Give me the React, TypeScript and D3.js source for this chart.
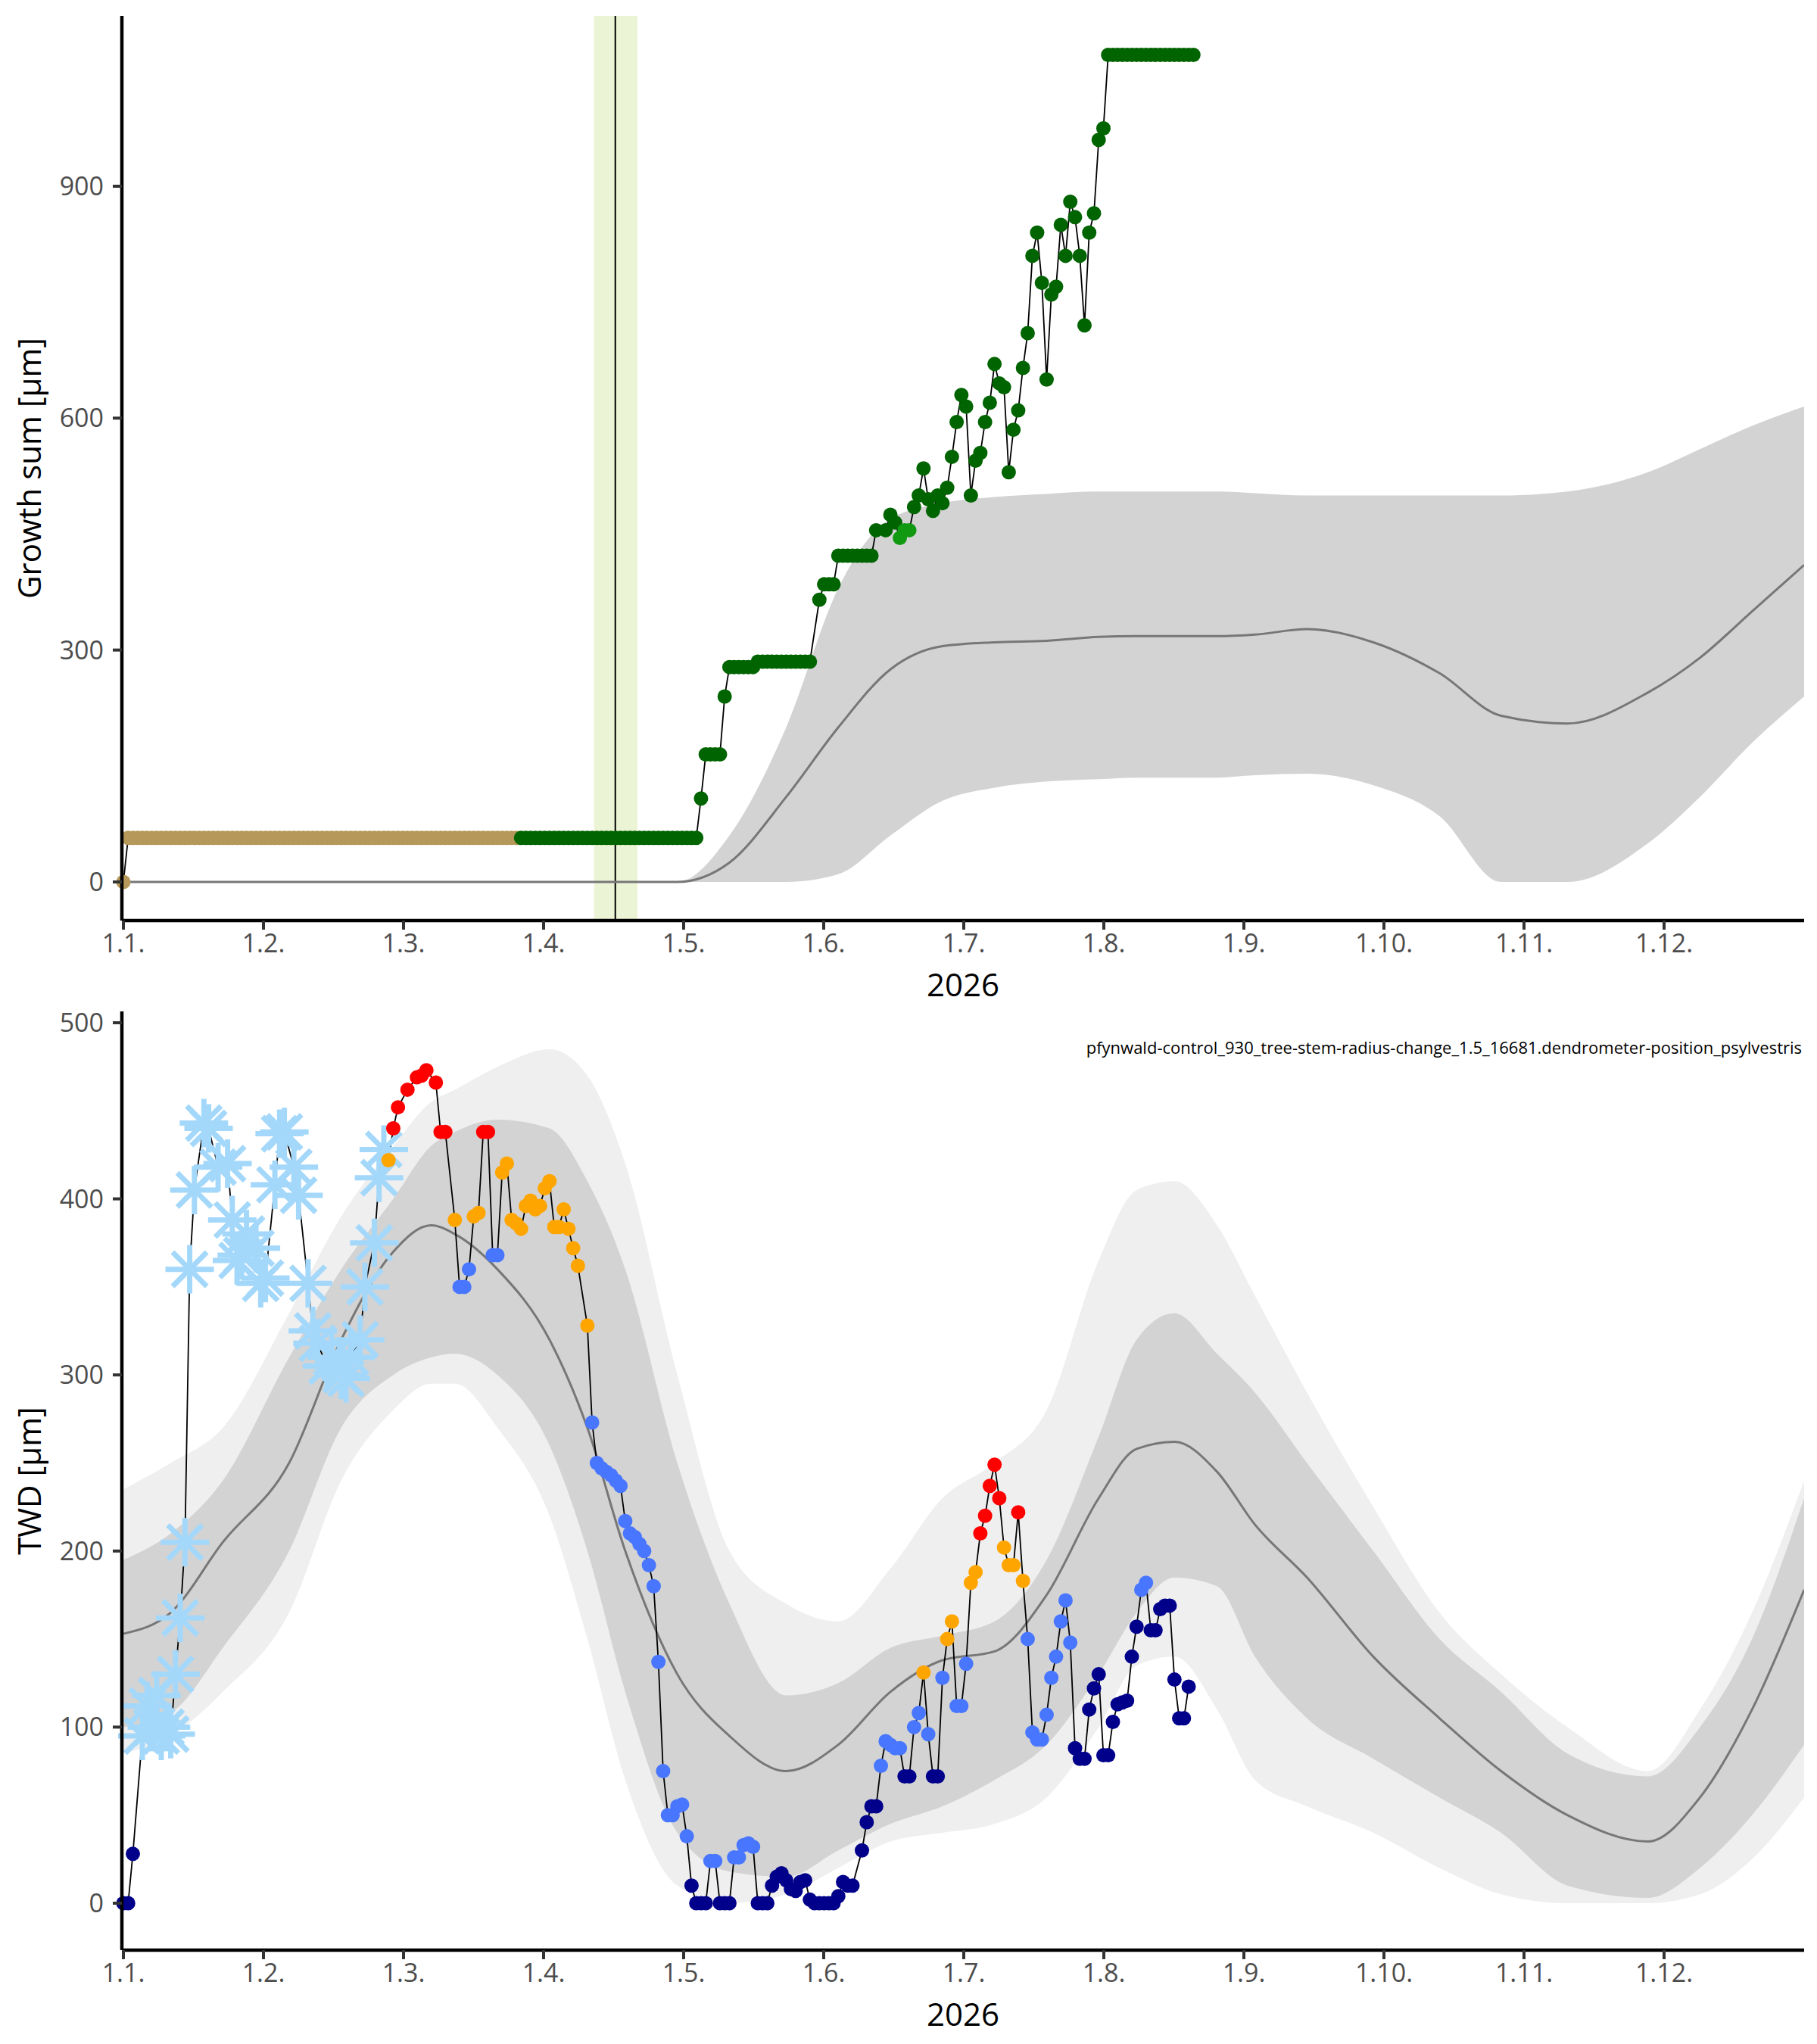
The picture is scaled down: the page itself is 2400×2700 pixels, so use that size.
import * as d3 from "d3";

// x positions are in "plot days": 0 = 1 Jan, 355 = 31 Dec (month ticks evenly spaced)
const monthLabels = ["1.1.", "1.2.", "1.3.", "1.4.", "1.5.", "1.6.", "1.7.", "1.8.", "1.9.", "1.10.", "1.11.", "1.12."];

// growth sum: [day, value, class]  t = pre-season, g = growth, l = light growth
const growth: [number, number, string][] = [[0, 0, "t"]];
for (let d = 1; d <= 83; d++) growth.push([d, 57, "t"]);
for (let d = 84; d <= 121; d++) growth.push([d, 57, "g"]);
const growthTail: [number, number][] = [
  [122, 108], [123, 165], [124, 165], [125, 165], [126, 165], [127, 240], [128, 278], [129, 278], [130, 278], [131, 278], [132, 278], [133, 278],
  [134, 285], [135, 285], [136, 285], [137, 285], [138, 285], [139, 285], [140, 285], [141, 285], [142, 285], [143, 285], [144, 285], [145, 285],
  [147, 365], [148, 385], [149, 385], [150, 385], [151, 422], [152, 422], [153, 422], [154, 422], [155, 422], [156, 422], [157, 422], [158, 422],
  [159, 455], [161, 455], [162, 475], [163, 465], [164, 445], [165, 455], [166, 455], [167, 485], [168, 500], [169, 535], [170, 495], [171, 480],
  [172, 500], [173, 490], [174, 510], [175, 550], [176, 595], [177, 630], [178, 615], [179, 500], [180, 545], [181, 555], [182, 595], [183, 620],
  [184, 670], [185, 645], [186, 640], [187, 530], [188, 585], [189, 610], [190, 665], [191, 710], [192, 810], [193, 840], [194, 775], [195, 650],
  [196, 760], [197, 770], [198, 850], [199, 810], [200, 880], [201, 860], [202, 810], [203, 720], [204, 840], [205, 865], [206, 960], [207, 975],
];
growthTail.forEach(([d, v]) => growth.push([d, v, d >= 164 && d <= 166 ? "l" : "g"]));
for (let d = 208; d <= 226; d++) growth.push([d, 1070, "g"]);

// TWD: [day, value, class] s = snow, n = navy, b = blue, o = orange, r = red
const twd: [number, number, string][] = [
  [0, 0, "n"], [1, 0, "n"], [2, 28, "n"],
  [4, 95, "s"], [5, 112, "s"], [6, 100, "s"], [7, 118, "s"], [8, 95, "s"], [9, 100, "s"], [10, 96, "s"], [11, 130, "s"], [12, 162, "s"], [13, 205, "s"],
  [14, 360, "s"], [15, 405, "s"], [17, 443, "s"], [18, 440, "s"], [20, 418, "s"], [22, 420, "s"], [23, 388, "s"], [24, 365, "s"], [25, 368, "s"],
  [26, 380, "s"], [28, 372, "s"], [29, 352, "s"], [30, 355, "s"], [32, 408, "s"], [33, 437, "s"], [34, 438, "s"], [36, 418, "s"], [37, 402, "s"],
  [39, 352, "s"], [40, 325, "s"], [41, 318, "s"], [43, 305, "s"], [44, 310, "s"], [46, 300, "s"], [47, 298, "s"], [48, 310, "s"], [50, 320, "s"],
  [51, 350, "s"], [53, 375, "s"], [54, 412, "s"], [55, 428, "s"],
  [56, 422, "o"], [57, 440, "r"], [58, 452, "r"], [60, 462, "r"], [62, 469, "r"], [63, 470, "r"], [64, 473, "r"], [66, 466, "r"], [67, 438, "r"], [68, 438, "r"],
  [70, 388, "o"], [71, 350, "b"], [72, 350, "b"], [73, 360, "b"], [74, 390, "o"], [75, 392, "o"], [76, 438, "r"], [77, 438, "r"], [78, 368, "b"], [79, 368, "b"],
  [80, 415, "o"], [81, 420, "o"], [82, 388, "o"], [83, 386, "o"], [84, 383, "o"], [85, 396, "o"], [86, 399, "o"], [87, 394, "o"], [88, 396, "o"],
  [89, 406, "o"], [90, 410, "o"], [91, 384, "o"], [92, 384, "o"], [93, 394, "o"], [94, 383, "o"], [95, 372, "o"], [96, 362, "o"], [98, 328, "o"],
  [99, 273, "b"], [100, 250, "b"], [101, 247, "b"], [102, 245, "b"], [103, 243, "b"], [104, 240, "b"], [105, 237, "b"], [106, 217, "b"], [107, 210, "b"],
  [108, 208, "b"], [109, 204, "b"], [110, 200, "b"], [111, 192, "b"], [112, 180, "b"], [113, 137, "b"], [114, 75, "b"], [115, 50, "b"], [116, 50, "b"],
  [117, 55, "b"], [118, 56, "b"], [119, 38, "b"], [120, 10, "n"], [121, 0, "n"], [122, 0, "n"], [123, 0, "n"], [124, 24, "b"], [125, 24, "b"],
  [126, 0, "n"], [127, 0, "n"], [128, 0, "n"], [129, 26, "b"], [130, 26, "b"], [131, 33, "b"], [132, 34, "b"], [133, 32, "b"],
  [134, 0, "n"], [135, 0, "n"], [136, 0, "n"], [137, 10, "n"], [138, 15, "n"], [139, 17, "n"], [140, 13, "n"], [141, 8, "n"], [142, 7, "n"],
  [143, 12, "n"], [144, 13, "n"], [145, 2, "n"], [146, 0, "n"], [147, 0, "n"], [148, 0, "n"], [149, 0, "n"], [150, 0, "n"], [151, 4, "n"],
  [152, 12, "n"], [153, 10, "n"], [154, 10, "n"], [156, 30, "n"], [157, 46, "n"], [158, 55, "n"], [159, 55, "n"],
  [160, 78, "b"], [161, 92, "b"], [162, 90, "b"], [163, 88, "b"], [164, 88, "b"], [165, 72, "n"], [166, 72, "n"], [167, 100, "b"], [168, 108, "b"],
  [169, 131, "o"], [170, 96, "b"], [171, 72, "n"], [172, 72, "n"], [173, 128, "b"], [174, 150, "o"], [175, 160, "o"], [176, 112, "b"], [177, 112, "b"],
  [178, 136, "b"], [179, 182, "o"], [180, 188, "o"], [181, 210, "r"], [182, 220, "r"], [183, 237, "r"], [184, 249, "r"], [185, 230, "r"],
  [186, 202, "o"], [187, 192, "o"], [188, 192, "o"], [189, 222, "r"], [190, 183, "o"], [191, 150, "b"], [192, 97, "b"], [193, 93, "b"], [194, 93, "b"],
  [195, 107, "b"], [196, 128, "b"], [197, 140, "b"], [198, 160, "b"], [199, 172, "b"], [200, 148, "b"], [201, 88, "n"], [202, 82, "n"], [203, 82, "n"],
  [204, 110, "n"], [205, 122, "n"], [206, 130, "n"], [207, 84, "n"], [208, 84, "n"], [209, 103, "n"], [210, 113, "n"], [211, 114, "n"], [212, 115, "n"],
  [213, 140, "n"], [214, 157, "n"], [215, 178, "b"], [216, 182, "b"], [217, 155, "n"], [218, 155, "n"], [219, 167, "n"], [220, 169, "n"], [221, 169, "n"],
  [222, 127, "n"], [223, 105, "n"], [224, 105, "n"], [225, 123, "n"],
];

// climatology bands on a shared day grid
const bandDays = [0, 10, 21, 35, 46, 57, 65, 70, 79, 90, 98, 106, 117, 128, 140, 151, 162, 173, 184, 195, 206, 214, 222, 231, 239, 250, 264, 278, 291, 305, 322, 333, 344, 355];
const gMean = [0, 0, 0, 0, 0, 0, 0, 0, 0, 0, 0, 0, 0, 25, 110, 200, 275, 305, 310, 312, 317, 318, 318, 318, 320, 327, 310, 270, 215, 205, 245, 290, 350, 410];
const gHi = [0, 0, 0, 0, 0, 0, 0, 0, 0, 0, 0, 0, 0, 60, 200, 380, 470, 490, 498, 502, 505, 505, 505, 505, 503, 500, 500, 500, 500, 505, 530, 560, 590, 615];
const gLo = [0, 0, 0, 0, 0, 0, 0, 0, 0, 0, 0, 0, 0, 0, 0, 10, 60, 105, 122, 130, 133, 135, 135, 135, 138, 140, 125, 85, 0, 0, 50, 110, 180, 240];
const tMean = [153, 165, 205, 250, 320, 370, 385, 380, 360, 320, 270, 200, 130, 95, 75, 90, 120, 138, 143, 175, 230, 258, 262, 245, 215, 185, 140, 105, 75, 50, 35, 60, 110, 178];
const tHi = [195, 210, 240, 310, 360, 400, 430, 438, 445, 440, 410, 360, 250, 170, 118, 125, 145, 152, 160, 195, 265, 320, 335, 312, 290, 250, 200, 150, 120, 85, 72, 100, 150, 230];
const tLo = [100, 108, 145, 200, 270, 300, 310, 312, 300, 260, 200, 120, 40, 18, 15, 30, 45, 55, 70, 90, 130, 165, 185, 180, 140, 105, 82, 60, 40, 10, 3, 20, 50, 90];
const tHi2 = [235, 250, 270, 335, 390, 430, 455, 462, 475, 485, 470, 420, 300, 200, 170, 160, 190, 230, 250, 280, 365, 405, 410, 385, 345, 290, 225, 165, 130, 100, 75, 110, 165, 240];
const tLo2 = [85, 95, 120, 165, 240, 280, 295, 295, 270, 220, 150, 70, 10, 0, 5, 20, 35, 40, 45, 60, 100, 135, 140, 110, 70, 55, 40, 20, 5, 0, 0, 5, 25, 60];

const sowing = { day: 103.9, from: 99.4, to: 108.6 };

const colors: Record<string, string> = { t: "#b5985a", g: "#006400", l: "#119a11", n: "#00008b", b: "#4876ff", o: "#ffa500", r: "#ff0000", s: "#a4d8fb" };
const font = "'Open Sans', 'Noto Sans', sans-serif";

const L = 161, R = 2383;
const x = d3.scaleLinear().domain([0, 355]).range([163, R]);
const tickDays = monthLabels.map((_, i) => (i * 355) / 12);

function XAxis({ y0 }: { y0: number }) {
  return (
    <g>
      <line x1={L} x2={R} y1={y0} y2={y0} stroke="#000" strokeWidth={4.5} />
      {tickDays.map((d, i) => (
        <g key={i} transform={`translate(${x(d)},${y0})`}>
          <line y1={0} y2={12} stroke="#333" strokeWidth={4} />
          <text y={42} textAnchor="middle" fontSize={34} fill="#4d4d4d" fontFamily={font}>{monthLabels[i]}</text>
        </g>
      ))}
      <text x={(L + R) / 2} y={y0 + 100} textAnchor="middle" fontSize={42} fill="#000" fontFamily={font}>2026</text>
    </g>
  );
}

function YAxis({ y, ticks, top, bottom, title }: { y: d3.ScaleLinear<number, number>; ticks: number[]; top: number; bottom: number; title: string }) {
  return (
    <g>
      <line x1={L} x2={L} y1={top} y2={bottom} stroke="#000" strokeWidth={4.5} />
      {ticks.map((t) => (
        <g key={t} transform={`translate(${L},${y(t)})`}>
          <line x1={-12} x2={0} stroke="#333" strokeWidth={4} />
          <text x={-24} dy="0.35em" textAnchor="end" fontSize={34} fill="#4d4d4d" fontFamily={font}>{t}</text>
        </g>
      ))}
      <text transform={`translate(54,${(top + bottom) / 2}) rotate(-90)`} textAnchor="middle" fontSize={42} fill="#000" fontFamily={font}>{title}</text>
    </g>
  );
}

function Snow({ cx, cy }: { cx: number; cy: number }) {
  const r = 32;
  return (
    <g transform={`translate(${cx},${cy})`} stroke={colors.s} strokeWidth={7}>
      {d3.range(4).map((k) => {
        const a = (k * Math.PI) / 4;
        return <line key={k} x1={-r * Math.cos(a)} y1={-r * Math.sin(a)} x2={r * Math.cos(a)} y2={r * Math.sin(a)} />;
      })}
    </g>
  );
}

export default function App() {
  const topT = 21, topB = 1216, botT = 1336, botB = 2576;
  const yTop = d3.scaleLinear().domain([0, 900]).range([1165, 246]);
  const yBot = d3.scaleLinear().domain([0, 500]).range([2514, 1351]);

  const areaOf = (y: d3.ScaleLinear<number, number>, lo: number[], hi: number[]) =>
    d3.area<number>().x((d) => x(d)).y0((_, i) => y(lo[i])).y1((_, i) => y(hi[i])).curve(d3.curveMonotoneX)(bandDays) || "";
  const lineOf = (y: d3.ScaleLinear<number, number>, v: number[]) =>
    d3.line<number>().x((d) => x(d)).y((_, i) => y(v[i])).curve(d3.curveMonotoneX)(bandDays) || "";
  const pts = (y: d3.ScaleLinear<number, number>, data: [number, number, string][]) =>
    d3.line<[number, number, string]>().x((d) => x(d[0])).y((d) => y(d[1]))(data) || "";

  return (
    <svg width={2400} height={2700} style={{ position: "absolute", left: 0, top: 0, background: "#fff" }}>
      {/* top panel */}
      <g>
        <rect x={x(sowing.from)} width={x(sowing.to) - x(sowing.from)} y={topT} height={topB - topT} fill="#ebf5d5" />
        <line x1={x(sowing.day)} x2={x(sowing.day)} y1={topT} y2={topB} stroke="#000" strokeWidth={2} />
        <clipPath id="topclip"><rect x={L} y={topT} width={R - L} height={topB - topT} /></clipPath>
        <g clipPath="url(#topclip)">
          <path d={areaOf(yTop, gLo, gHi)} fill="#d3d3d3" />
          <path d={lineOf(yTop, gMean)} fill="none" stroke="#777" strokeWidth={3} />
        </g>
        <path d={pts(yTop, growth)} fill="none" stroke="#000" strokeWidth={1.8} />
        {growth.map((d, i) => <circle key={i} cx={x(d[0])} cy={yTop(d[1])} r={9.5} fill={colors[d[2]]} />)}
        <YAxis y={yTop} ticks={[0, 300, 600, 900]} top={topT} bottom={topB} title="Growth sum [µm]" />
        <XAxis y0={topB} />
      </g>
      {/* bottom panel */}
      <g>
        <clipPath id="botclip"><rect x={L} y={botT} width={R - L} height={botB - botT} /></clipPath>
        <g clipPath="url(#botclip)">
          <path d={areaOf(yBot, tLo2, tHi2)} fill="#efefef" />
          <path d={areaOf(yBot, tLo, tHi)} fill="#d3d3d3" />
          <path d={lineOf(yBot, tMean)} fill="none" stroke="#777" strokeWidth={3} />
        </g>
        <path d={pts(yBot, twd)} fill="none" stroke="#000" strokeWidth={1.8} />
        {twd.map((d, i) =>
          d[2] === "s" ? <Snow key={i} cx={x(d[0])} cy={yBot(d[1])} /> : <circle key={i} cx={x(d[0])} cy={yBot(d[1])} r={9.5} fill={colors[d[2]]} />
        )}
        <text x={2380} y={1392} textAnchor="end" fontSize={22} fill="#000" fontFamily={font}>
          pfynwald-control_930_tree-stem-radius-change_1.5_16681.dendrometer-position_psylvestris
        </text>
        <YAxis y={yBot} ticks={[0, 100, 200, 300, 400, 500]} top={botT} bottom={botB} title="TWD [µm]" />
        <XAxis y0={botB} />
      </g>
    </svg>
  );
}
